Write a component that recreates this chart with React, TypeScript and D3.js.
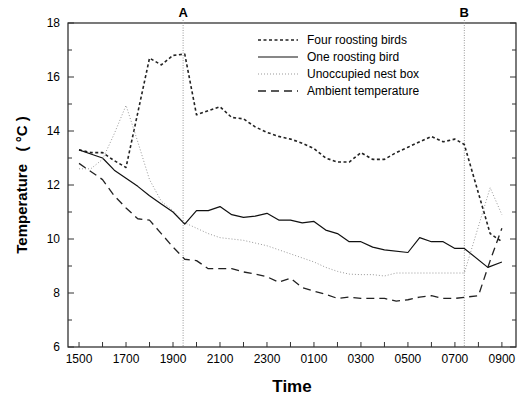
import React, { useEffect, useRef } from 'react';
import * as d3 from 'd3';

// time in hours after midnight of day 1 (so 0900 next day = 33)
const times4 = [15, 15.5, 16, 16.5, 17, 18, 18.5, 19, 19.5, 20, 20.5, 21, 21.5, 22, 22.5, 23, 23.5, 24, 24.5, 25, 25.5, 26, 26.5, 27, 27.5, 28, 28.5, 29, 29.5, 30, 30.5, 31, 31.4, 32.5, 33];
const fourBirds = [13.3, 13.2, 13.2, 12.9, 12.65, 16.7, 16.45, 16.8, 16.85, 14.6, 14.75, 14.9, 14.5, 14.45, 14.15, 13.95, 13.8, 13.7, 13.55, 13.35, 13.0, 12.85, 12.85, 13.2, 12.95, 12.95, 13.2, 13.4, 13.6, 13.8, 13.6, 13.7, 13.5, 10.2, 9.9];

const times1 = [15, 15.5, 16, 16.5, 17, 17.5, 18, 18.5, 19, 19.5, 20, 20.5, 21, 21.5, 22, 22.5, 23, 23.5, 24, 24.5, 25, 25.5, 26, 26.5, 27, 27.5, 28, 29, 29.5, 30, 30.5, 31, 31.4, 32.4, 33];
const oneBird = [13.3, 13.15, 13.0, 12.55, 12.25, 11.95, 11.6, 11.3, 11.0, 10.55, 11.05, 11.05, 11.2, 10.9, 10.8, 10.85, 10.95, 10.7, 10.7, 10.6, 10.65, 10.33, 10.2, 9.9, 9.9, 9.7, 9.6, 9.5, 10.05, 9.9, 9.9, 9.65, 9.65, 8.95, 9.15];

const timesU = [15, 15.5, 16, 16.5, 17, 17.5, 18, 18.5, 19, 19.5, 20, 20.5, 21, 21.5, 22, 22.5, 23, 23.5, 24, 24.5, 25, 25.5, 26, 26.5, 27, 27.5, 28, 28.5, 29, 29.5, 30, 30.5, 31, 31.4, 32.5, 33];
const unoccupied = [12.6, 12.6, 12.95, 13.9, 14.95, 13.6, 12.2, 11.4, 11.05, 10.6, 10.4, 10.2, 10.05, 10.0, 9.95, 9.85, 9.75, 9.6, 9.45, 9.3, 9.15, 8.95, 8.8, 8.7, 8.68, 8.68, 8.63, 8.74, 8.74, 8.74, 8.74, 8.74, 8.74, 8.74, 11.9, 10.9];

const timesA = [15, 15.5, 16, 16.5, 17, 17.5, 18, 18.5, 19, 19.5, 20, 20.5, 21, 21.5, 22, 22.5, 23, 23.5, 24, 24.5, 25, 25.5, 26, 26.5, 27, 27.5, 28, 28.5, 29, 29.5, 30, 30.5, 31, 31.5, 32, 32.5, 33];
const ambient = [12.8, 12.5, 12.2, 11.6, 11.15, 10.75, 10.7, 10.2, 9.7, 9.25, 9.2, 8.9, 8.9, 8.9, 8.78, 8.7, 8.6, 8.4, 8.55, 8.2, 8.07, 7.95, 7.8, 7.85, 7.8, 7.8, 7.8, 7.7, 7.75, 7.85, 7.9, 7.8, 7.8, 7.85, 7.9, 9.2, 10.4];

const seriesNames = ['Four roosting birds', 'One roosting bird', 'Unoccupied nest box', 'Ambient temperature'];
const xTickLabels = ['1500', '1700', '1900', '2100', '2300', '0100', '0300', '0500', '0700', '0900'];
const yTicks = [6, 8, 10, 12, 14, 16, 18];
const markerLabels = ['A', 'B'];
const markerTimes = [19.43, 31.4];

const FONT = "'Liberation Sans', Arial, Helvetica, sans-serif";

const App = () => {
    const ref = useRef<SVGSVGElement>(null);
    useEffect(() => {
        draw(ref.current);
    }, []);
    return (
        <svg ref={ref} width={522} height={403}
            style={{ position: 'absolute', left: 0, top: 0, background: '#fff' }} />
    );
};

const draw = (el: SVGSVGElement | null) => {
    if (!el) return;
    const svg = d3.select(el);
    svg.selectAll('*').remove();

    const left = 68, right = 516, top = 23, bottom = 347;

    const x = d3.scaleLinear().domain([14.53, 33.6]).range([left, right]);
    const y = d3.scaleLinear().domain([6, 18]).range([bottom, top]);

    // frame
    svg.append('rect')
        .attr('x', left).attr('y', top)
        .attr('width', right - left).attr('height', bottom - top)
        .attr('fill', 'none').attr('stroke', '#222').attr('stroke-width', 1.2);

    // y ticks, major inward + minor at odd values
    const g = svg.append('g').style('font-family', FONT);
    d3.range(6, 18.01, 1).forEach((v) => {
        const major = v % 2 === 0;
        g.append('line')
            .attr('x1', left).attr('x2', left + (major ? 6 : 4))
            .attr('y1', y(v)).attr('y2', y(v))
            .attr('stroke', '#333').attr('stroke-width', 1);
        g.append('line')
            .attr('x1', right).attr('x2', right - (major ? 6 : 4))
            .attr('y1', y(v)).attr('y2', y(v))
            .attr('stroke', '#333').attr('stroke-width', 1);
    });
    g.selectAll('.ylab')
        .data(yTicks)
        .enter()
        .append('text')
        .attr('x', left - 8)
        .attr('y', (d) => y(d))
        .attr('dy', '0.35em')
        .attr('text-anchor', 'end')
        .style('font-size', '12px')
        .text((d) => d);

    // x ticks every hour
    d3.range(15, 33.01, 1).forEach((h) => {
        g.append('line')
            .attr('x1', x(h)).attr('x2', x(h))
            .attr('y1', bottom).attr('y2', bottom - 5)
            .attr('stroke', '#333').attr('stroke-width', 1);
    });
    g.selectAll('.xlab')
        .data(xTickLabels)
        .enter()
        .append('text')
        .attr('x', (d, i) => x(15 + i * 2))
        .attr('y', bottom + 16)
        .attr('text-anchor', 'middle')
        .style('font-size', '12px')
        .text((d) => d);

    // axis titles
    svg.append('text')
        .attr('transform', `translate(27,${(top + bottom) / 2}) rotate(-90)`)
        .attr('text-anchor', 'middle')
        .style('font-family', FONT).style('font-weight', 'bold').style('font-size', '15px')
        .style('white-space', 'pre')
        .text('Temperature   ( °C )');
    svg.append('text')
        .attr('x', (left + right) / 2).attr('y', 392)
        .attr('text-anchor', 'middle')
        .style('font-family', FONT).style('font-weight', 'bold').style('font-size', '17px')
        .text('Time');

    // A / B markers
    markerTimes.forEach((t, i) => {
        svg.append('line')
            .attr('x1', x(t)).attr('x2', x(t))
            .attr('y1', top - 3).attr('y2', bottom)
            .attr('stroke', '#999').attr('stroke-width', 1)
            .attr('stroke-dasharray', '1,1.5');
        svg.append('text')
            .attr('x', x(t)).attr('y', 17)
            .attr('text-anchor', 'middle')
            .style('font-family', FONT).style('font-weight', 'bold').style('font-size', '13px')
            .text(markerLabels[i]);
    });

    const styles = [
        { color: '#222', width: 1.6, dash: '3,2.5' },
        { color: '#111', width: 1.2, dash: null },
        { color: '#999', width: 1, dash: '1,2' },
        { color: '#222', width: 1.3, dash: '8,5' },
    ];
    const allTimes = [times4, times1, timesU, timesA];
    const allVals = [fourBirds, oneBird, unoccupied, ambient];

    const line = d3.line<[number, number]>()
        .x((d) => x(d[0]))
        .y((d) => y(d[1]));

    allVals.forEach((vals, i) => {
        const pts: [number, number][] = vals.map((v, j) => [allTimes[i][j], v]);
        const p = svg.append('path')
            .attr('d', line(pts))
            .attr('fill', 'none')
            .attr('stroke', styles[i].color)
            .attr('stroke-width', styles[i].width)
            .attr('stroke-linejoin', 'round');
        if (styles[i].dash) p.attr('stroke-dasharray', styles[i].dash);
    });

    // legend
    const lg = svg.append('g').attr('transform', 'translate(258,40)');
    seriesNames.forEach((name, i) => {
        const l = lg.append('line')
            .attr('x1', 0).attr('x2', 40)
            .attr('y1', i * 17).attr('y2', i * 17)
            .attr('stroke', styles[i].color)
            .attr('stroke-width', styles[i].width);
        if (styles[i].dash) l.attr('stroke-dasharray', styles[i].dash);
        lg.append('text')
            .attr('x', 49).attr('y', i * 17)
            .attr('dy', '0.35em')
            .style('font-family', FONT).style('font-size', '12px')
            .text(name);
    });
};

export default App;
